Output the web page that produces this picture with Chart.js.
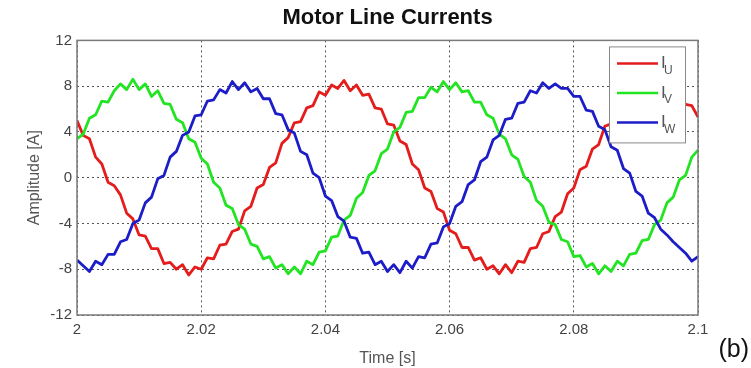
<!DOCTYPE html>
<html>
<head>
<meta charset="utf-8">
<script src="https://cdn.jsdelivr.net/npm/chart.js@4.4.0/dist/chart.umd.min.js"></script>
<style>
  body { margin: 0; background: #fff; }
  canvas { display: block; }
</style>
</head>
<body>
<canvas id="chart" width="751" height="368"></canvas>
<script>
// sample times [s]
const time = [
  2.000, 2.001, 2.002, 2.003, 2.004, 2.005, 2.006, 2.007, 2.008, 2.009,
  2.010, 2.011, 2.012, 2.013, 2.014, 2.015, 2.016, 2.017, 2.018, 2.019,
  2.020, 2.021, 2.022, 2.023, 2.024, 2.025, 2.026, 2.027, 2.028, 2.029,
  2.030, 2.031, 2.032, 2.033, 2.034, 2.035, 2.036, 2.037, 2.038, 2.039,
  2.040, 2.041, 2.042, 2.043, 2.044, 2.045, 2.046, 2.047, 2.048, 2.049,
  2.050, 2.051, 2.052, 2.053, 2.054, 2.055, 2.056, 2.057, 2.058, 2.059,
  2.060, 2.061, 2.062, 2.063, 2.064, 2.065, 2.066, 2.067, 2.068, 2.069,
  2.070, 2.071, 2.072, 2.073, 2.074, 2.075, 2.076, 2.077, 2.078, 2.079,
  2.080, 2.081, 2.082, 2.083, 2.084, 2.085, 2.086, 2.087, 2.088, 2.089,
  2.090, 2.091, 2.092, 2.093, 2.094, 2.095, 2.096, 2.097, 2.098, 2.099,
  2.100
];

// line currents [A]
const iu = [
  5.0, 3.7, 3.4, 1.8, 1.2, -0.4, -0.7, -1.5, -3.1, -3.6,
  -5.0, -5.1, -6.2, -6.2, -7.5, -7.4, -8.0, -7.6, -8.5, -7.8,
  -8.0, -7.0, -7.1, -5.9, -5.8, -4.7, -4.5, -2.9, -2.5, -0.9,
  -0.6, 0.9, 1.3, 3.0, 3.5, 4.8, 4.9, 6.1, 6.3, 7.5,
  7.2, 8.1, 7.8, 8.5, 7.6, 8.1, 7.2, 7.3, 6.1, 6.0,
  4.7, 4.6, 3.2, 2.9, 1.2, 0.7, -0.9, -1.2, -2.7, -3.0,
  -4.6, -4.9, -6.1, -6.1, -7.2, -7.0, -8.0, -7.7, -8.4, -7.6,
  -8.3, -7.3, -7.4, -6.2, -6.1, -4.9, -4.7, -3.4, -3.0, -1.4,
  -0.9, 0.7, 1.0, 2.5, 2.9, 4.5, 4.7, 6.0, 6.0, 7.2,
  7.1, 8.1, 7.6, 8.3, 7.8, 8.1, 7.2, 7.4, 6.4, 6.3,
  5.3
];
const iv = [
  3.4, 3.8, 5.2, 5.5, 6.7, 6.6, 7.6, 8.2, 7.7, 8.6,
  7.7, 8.2, 7.1, 7.6, 6.5, 6.4, 5.1, 4.8, 3.4, 3.1,
  1.7, 1.2, -0.4, -0.9, -2.4, -2.7, -4.1, -4.5, -5.8, -6.0,
  -7.1, -6.9, -7.9, -7.6, -8.4, -7.8, -8.4, -7.3, -7.6, -6.5,
  -6.4, -5.2, -5.1, -3.7, -3.3, -1.8, -1.3, 0.2, 0.6, 2.1,
  2.5, 4.0, 4.4, 5.7, 5.8, 7.0, 7.0, 7.9, 7.5, 8.4,
  7.7, 8.3, 7.5, 7.6, 6.6, 6.6, 5.5, 5.2, 3.8, 3.4,
  2.0, 1.6, 0.1, -0.4, -2.0, -2.5, -3.9, -4.1, -5.4, -5.6,
  -6.9, -6.8, -7.8, -7.5, -8.4, -7.7, -8.2, -7.3, -7.7, -6.7,
  -6.6, -5.5, -5.4, -4.1, -3.7, -2.2, -1.7, -0.2, 0.2, 1.8,
  2.4
];
const iw = [
  -7.2, -7.7, -8.2, -7.3, -7.6, -6.7, -6.7, -5.6, -5.4, -4.0,
  -3.7, -2.2, -1.7, -0.1, 0.2, 1.8, 2.3, 3.7, 4.0, 5.4,
  5.5, 6.7, 6.8, 7.7, 7.4, 8.4, 7.7, 8.3, 7.5, 7.8,
  6.9, 6.9, 5.6, 5.5, 4.2, 3.9, 2.3, 2.0, 0.4, 0.0,
  -1.6, -2.0, -3.4, -3.8, -5.2, -5.3, -6.6, -6.5, -7.6, -7.3,
  -8.2, -7.6, -8.3, -7.3, -7.9, -6.9, -7.0, -5.8, -5.7, -4.3,
  -4.0, -2.5, -2.1, -0.6, -0.2, 1.4, 1.8, 3.3, 3.7, 5.1,
  5.2, 6.5, 6.6, 7.6, 7.4, 8.3, 7.8, 8.2, 7.8, 7.8,
  7.1, 7.1, 5.9, 5.8, 4.5, 4.2, 2.7, 2.4, 0.8, 0.4,
  -1.2, -1.6, -3.1, -3.5, -4.5, -5.0, -5.6, -6.1, -6.6, -7.3,
  -6.9
];

const xTicks = [2, 2.02, 2.04, 2.06, 2.08, 2.1];
const xTickLabels = ['2', '2.02', '2.04', '2.06', '2.08', '2.1'];
const yTicks = [-12, -8, -4, 0, 4, 8, 12];
const phaseNames = ['U', 'V', 'W'];

const FONT = "'Liberation Sans', Arial, sans-serif";
Chart.defaults.font.family = FONT;

const toPoints = ys => time.map((t, i) => ({ x: t, y: ys[i] }));

// box around the axes, matlab style
const axesBox = {
  id: 'axesBox',
  afterDatasetsDraw(chart) {
    const { ctx, chartArea: a } = chart;
    ctx.save();
    ctx.strokeStyle = '#7a7a7a';
    ctx.lineWidth = 1.5;
    ctx.strokeRect(a.left, a.top, a.right - a.left, a.bottom - a.top);
    ctx.restore();
  }
};

// legend with subscripts + the "(b)" panel tag
const legendBox = {
  id: 'legendBox',
  afterDraw(chart) {
    const { ctx, chartArea: a } = chart;
    const x0 = a.right - 89, y0 = a.top + 6;
    ctx.save();
    ctx.fillStyle = '#fff';
    ctx.fillRect(x0, y0, 76, 96);
    ctx.strokeStyle = '#8a8a8a';
    ctx.lineWidth = 1;
    ctx.strokeRect(x0 + 0.5, y0 + 0.5, 76, 96);
    chart.data.datasets.forEach((ds, i) => {
      const y = y0 + 17 + i * 29.5;
      ctx.strokeStyle = ds.borderColor;
      ctx.lineWidth = 2.5;
      ctx.beginPath();
      ctx.moveTo(x0 + 8, y);
      ctx.lineTo(x0 + 49, y);
      ctx.stroke();
      ctx.fillStyle = '#555';
      ctx.textBaseline = 'middle';
      ctx.font = '17px ' + FONT;
      ctx.fillText('I', x0 + 52, y);
      ctx.font = '12px ' + FONT;
      ctx.fillText(phaseNames[i], x0 + 55, y + 7);
    });
    ctx.fillStyle = '#111';
    ctx.font = '25px ' + FONT;
    ctx.textAlign = 'right';
    ctx.textBaseline = 'alphabetic';
    ctx.fillText('(b)', 749, 357);
    ctx.restore();
  }
};

new Chart(document.getElementById('chart'), {
  type: 'line',
  data: {
    datasets: [
      { label: 'I_U', data: toPoints(iu), borderColor: '#e41c1c', order: 3 },
      { label: 'I_V', data: toPoints(iv), borderColor: '#22e422', order: 2 },
      { label: 'I_W', data: toPoints(iw), borderColor: '#1c1cc8', order: 1 }
    ]
  },
  options: {
    responsive: false,
    animation: false,
    layout: { padding: { left: 0, right: 53, top: 0, bottom: 0 } },
    elements: {
      point: { radius: 0 },
      line: { borderWidth: 2.8, tension: 0, borderJoinStyle: 'round' }
    },
    plugins: {
      legend: { display: false },
      tooltip: { enabled: false },
      title: {
        display: true,
        fullSize: false,
        text: 'Motor Line Currents',
        color: '#111',
        font: { size: 22, weight: 'bold' },
        padding: { top: 5, bottom: 9 }
      }
    },
    scales: {
      x: {
        type: 'linear',
        min: 2,
        max: 2.1,
        afterFit: s => { s.height = 53; },
        afterBuildTicks: s => { s.ticks = xTicks.map(v => ({ value: v })); },
        ticks: {
          autoSkip: false,
          maxRotation: 0,
          padding: 6,
          color: '#444',
          font: { size: 15 },
          callback: (v, i) => xTickLabels[i]
        },
        grid: { drawTicks: false, color: '#555', lineWidth: 1 },
        border: { display: false, dash: [2, 3] },
        title: {
          display: true,
          text: 'Time [s]',
          color: '#555',
          font: { size: 16 },
          padding: { top: 7, bottom: 0 }
        }
      },
      y: {
        min: -12,
        max: 12,
        afterFit: s => { s.width = 77; },
        afterBuildTicks: s => { s.ticks = yTicks.map(v => ({ value: v })); },
        ticks: {
          padding: 5,
          color: '#444',
          font: { size: 15 }
        },
        grid: { drawTicks: false, color: '#555', lineWidth: 1 },
        border: { display: false, dash: [2, 3] },
        title: {
          display: true,
          text: 'Amplitude [A]',
          color: '#555',
          font: { size: 16 },
          padding: { top: 25, bottom: 0 }
        }
      }
    }
  },
  plugins: [axesBox, legendBox]
});
</script>
</body>
</html>
